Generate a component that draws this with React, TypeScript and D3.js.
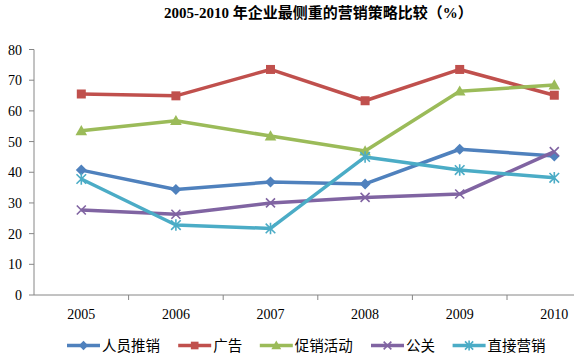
import React from "react";
import * as d3 from "d3";

const years = ["2005", "2006", "2007", "2008", "2009", "2010"];
const seriesNames = ["人员推销", "广告", "促销活动", "公关", "直接营销"];
const personalSelling = [40.7, 34.4, 36.8, 36.2, 47.5, 45.3];
const advertising = [65.5, 64.9, 73.5, 63.3, 73.5, 65.1];
const salesPromotion = [53.5, 56.8, 51.8, 46.9, 66.4, 68.4];
const publicRelations = [27.7, 26.3, 30.0, 31.8, 32.9, 46.7];
const directMarketing = [37.8, 22.8, 21.7, 45.0, 40.7, 38.2];
const yTicks = [0, 10, 20, 30, 40, 50, 60, 70, 80];

const colors = ["#4F81BD", "#C0504D", "#9BBB59", "#8064A2", "#4BACC6"];
const markerKinds = ["diamond", "square", "triangle", "cross", "star"];
const allSeries = [personalSelling, advertising, salesPromotion, publicRelations, directMarketing];

const W = 574;
const H = 362;
const axisColor = "#868686";
const serif = "'Liberation Serif', 'Times New Roman', serif";
const cjk = "'Noto Sans CJK SC', sans-serif";

// marker path around (0,0)
const markerPath = (kind: string, s = 1) => {
  if (kind === "diamond") {
    const r = 5.5 * s;
    return `M0,${-r}L${r},0L0,${r}L${-r},0Z`;
  }
  if (kind === "square") {
    const r = 4.5 * s;
    return `M${-r},${-r}H${r}V${r}H${-r}Z`;
  }
  if (kind === "triangle") {
    const r = 5.8 * s;
    return `M0,${-r}L${r},${r * 0.75}L${-r},${r * 0.75}Z`;
  }
  if (kind === "cross") {
    const r = 4.5 * s;
    return `M${-r},${-r}L${r},${r}M${-r},${r}L${r},${-r}`;
  }
  const r = 4.8 * s;
  return `M${-r},${-r}L${r},${r}M${-r},${r}L${r},${-r}M0,${-r * 1.2}L0,${r * 1.2}`;
};

const Marker = ({ kind, color, x, y, s = 1 }: any) => {
  const stroked = kind === "cross" || kind === "star";
  return (
    <path
      transform={`translate(${x},${y})`}
      d={markerPath(kind, s)}
      fill={stroked ? "none" : color}
      stroke={color}
      strokeWidth={stroked ? 1.6 : 0}
    />
  );
};

export default function App() {
  const x = d3.scaleBand<string>().domain(years).range([34, 34 + 6 * 94.6]);
  const y = d3.scaleLinear().domain([0, 80]).range([295, 49.5]);
  const cx = (yr: string) => (x(yr) as number) + x.bandwidth() / 2;

  const line = d3
    .line<number>()
    .x((_, i) => cx(years[i]))
    .y((d) => y(d));

  // legend layout
  const charW = 14.8;
  let lx = 67;
  const legendItems = seriesNames.map((name, i) => {
    const item = { name, i, x0: lx };
    lx += 33 + 2 + name.length * charW + 17;
    return item;
  });
  const ly = 345.5;

  return (
    <svg width={W} height={H} style={{ position: "absolute", left: 0, top: 0 }}>
      <rect width={W} height={H} fill="#fff" />
      <text x={164} y={18} fontFamily={`${serif}, ${cjk}`} fontWeight="bold" fontSize={15} fill="#000">
        2005-2010 年企业最侧重的营销策略比较（%）
      </text>

      {/* y axis */}
      <line x1={34} x2={34} y1={y(80)} y2={y(0)} stroke={axisColor} />
      {yTicks.map((t) => (
        <g key={t}>
          <line x1={29} x2={34} y1={y(t)} y2={y(t)} stroke={axisColor} />
          <text x={22} y={y(t) + 5} textAnchor="end" fontFamily={serif} fontSize={14} fill="#000">
            {t}
          </text>
        </g>
      ))}

      {/* x axis */}
      <line x1={34} x2={W} y1={y(0)} y2={y(0)} stroke={axisColor} />
      {years.slice(1).map((yr) => (
        <line key={yr} x1={x(yr)} x2={x(yr)} y1={y(0)} y2={y(0) + 5} stroke={axisColor} />
      ))}
      {years.map((yr) => (
        <text key={yr} x={cx(yr)} y={319} textAnchor="middle" fontFamily={serif} fontSize={14} fill="#000">
          {yr}
        </text>
      ))}

      {/* series */}
      {allSeries.map((vals, si) => (
        <g key={si}>
          <path d={line(vals) || ""} fill="none" stroke={colors[si]} strokeWidth={3.5} strokeLinejoin="round" />
          {vals.map((v, i) => (
            <Marker key={i} kind={markerKinds[si]} color={colors[si]} x={cx(years[i])} y={y(v)} />
          ))}
        </g>
      ))}

      {/* legend */}
      {legendItems.map((it) => (
        <g key={it.name}>
          <line x1={it.x0} x2={it.x0 + 33} y1={ly} y2={ly} stroke={colors[it.i]} strokeWidth={3.5} />
          <Marker kind={markerKinds[it.i]} color={colors[it.i]} x={it.x0 + 16.5} y={ly} s={0.85} />
          <text x={it.x0 + 35} y={ly + 5.5} fontFamily={cjk} fontSize={14.5} fill="#000">
            {it.name}
          </text>
        </g>
      ))}
    </svg>
  );
}
